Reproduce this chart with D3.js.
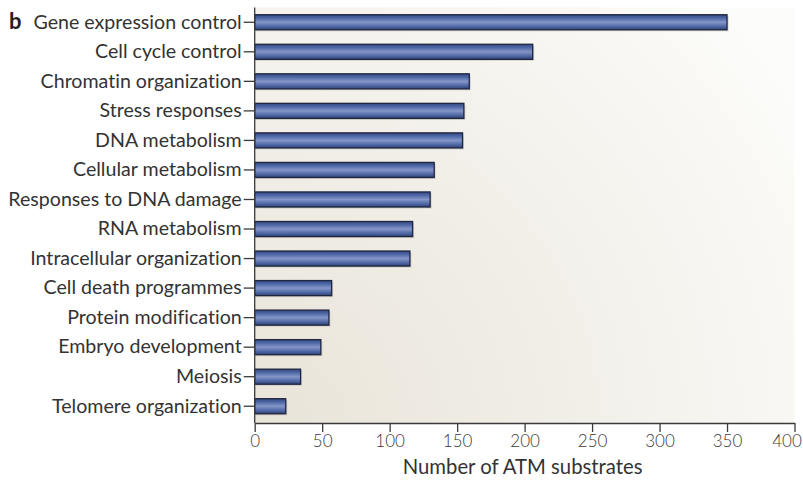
<!DOCTYPE html>
<html>
<head>
<meta charset="utf-8">
<script src="https://cdn.jsdelivr.net/npm/d3@7"></script>
<style>
  html, body { margin: 0; padding: 0; background: #ffffff; }
  svg { display: block; }
  text { font-family: Lato, "Open Sans", sans-serif; font-variant-ligatures: none; }
</style>
</head>
<body>
<div id="chart"></div>
<script>
// Functional categories of ATM substrates
const categories = [
  "Gene expression control",
  "Cell cycle control",
  "Chromatin organization",
  "Stress responses",
  "DNA metabolism",
  "Cellular metabolism",
  "Responses to DNA damage",
  "RNA metabolism",
  "Intracellular organization",
  "Cell death programmes",
  "Protein modification",
  "Embryo development",
  "Meiosis",
  "Telomere organization"
];
const substrateCounts = [350, 206, 159, 155, 154, 133, 130, 117, 115, 57, 55, 49, 34, 23];
const xTickValues = [0, 50, 100, 150, 200, 250, 300, 350, 400];
const xAxisTitle = "Number of ATM substrates";
const panelLetter = "b";

const width = 803, height = 481;
const margin = { top: 7.5, right: 8.5, bottom: 58, left: 254.7 };
const plotW = width - margin.left - margin.right;
const plotH = height - margin.top - margin.bottom;

const svg = d3.select("#chart").append("svg")
  .attr("width", width)
  .attr("height", height);

const defs = svg.append("defs");

// Warm radial wash behind the bars
const bg = defs.append("radialGradient")
  .attr("id", "bgWash")
  .attr("gradientUnits", "userSpaceOnUse")
  .attr("cx", margin.left + 10).attr("cy", margin.top + plotH + 10)
  .attr("r", 640);
bg.append("stop").attr("offset", "0%").attr("stop-color", "#e9e4d9");
bg.append("stop").attr("offset", "45%").attr("stop-color", "#f1eee7");
bg.append("stop").attr("offset", "100%").attr("stop-color", "#fcfcfa");

// Cylindrical shading for bars
const barGrad = defs.append("linearGradient")
  .attr("id", "barFill")
  .attr("x1", 0).attr("y1", 0).attr("x2", 0).attr("y2", 1);
[["0%", "#34487e"], ["22%", "#4d67a6"], ["50%", "#8596c8"], ["78%", "#4f68a6"], ["100%", "#2f4275"]]
  .forEach(([o, c]) => barGrad.append("stop").attr("offset", o).attr("stop-color", c));

const g = svg.append("g").attr("transform", `translate(${margin.left},${margin.top})`);

g.append("rect")
  .attr("x", 0).attr("y", 0)
  .attr("width", plotW).attr("height", plotH)
  .attr("fill", "url(#bgWash)")
  .attr("transform", `translate(${-margin.left},${-margin.top})`)
  .attr("x", margin.left).attr("y", margin.top);

const x = d3.scaleLinear().domain([0, 400]).range([0, plotW]);
const y = d3.scaleBand().domain(categories).range([0, plotH - 2]).paddingInner(0.49).paddingOuter(0.245);

const data = categories.map((c, i) => ({ name: c, value: substrateCounts[i] }));

// Soft drop shadows
g.selectAll("rect.shadow").data(data).join("rect")
  .attr("class", "shadow")
  .attr("x", 1.5)
  .attr("y", d => y(d.name) + 1.5)
  .attr("width", d => x(d.value))
  .attr("height", y.bandwidth())
  .attr("fill", "#b9b5ad")
  .attr("opacity", 0.55);

g.selectAll("rect.bar").data(data).join("rect")
  .attr("class", "bar")
  .attr("x", 0)
  .attr("y", d => y(d.name))
  .attr("width", d => x(d.value))
  .attr("height", y.bandwidth())
  .attr("fill", "url(#barFill)")
  .attr("stroke", "#1f2640")
  .attr("stroke-width", 1.3);

// Category axis
const yAxis = g.append("g")
  .call(d3.axisLeft(y).tickSize(11).tickPadding(2).tickSizeOuter(0));
yAxis.select(".domain").remove();
yAxis.selectAll(".tick line").attr("stroke", "#3a3a3a").attr("stroke-width", 1.3);
yAxis.selectAll(".tick text")
  .attr("fill", "#333333")
  .style("font-size", "19.6px")
  .style("font-family", "Lato, 'Open Sans', sans-serif");

g.append("line")
  .attr("x1", 0).attr("x2", 0)
  .attr("y1", 0).attr("y2", plotH)
  .attr("stroke", "#3a3a3a").attr("stroke-width", 1.3);

// Value axis
const xAxis = g.append("g")
  .attr("transform", `translate(0,${plotH})`)
  .call(d3.axisBottom(x).tickValues(xTickValues).tickSize(9).tickPadding(3).tickSizeOuter(0));
xAxis.select(".domain").attr("stroke", "#3a3a3a").attr("stroke-width", 1.3);
xAxis.selectAll(".tick line").attr("stroke", "#3a3a3a").attr("stroke-width", 1.3);
xAxis.selectAll(".tick text")
  .attr("fill", "#3a3a3a")
  .style("font-size", "17px")
  .style("font-weight", "300")
  .style("font-family", "Lato, 'Open Sans', sans-serif");
// keep the last label inside the page edge
xAxis.selectAll(".tick text").filter(d => d === 400)
  .attr("text-anchor", "end").attr("dx", "0.4em");

g.append("text")
  .attr("x", plotW / 2 - 2)
  .attr("y", plotH + 51)
  .attr("text-anchor", "middle")
  .attr("fill", "#333333")
  .style("font-size", "20.3px")
  .text(xAxisTitle);

svg.append("text")
  .attr("x", 9)
  .attr("y", 29)
  .attr("fill", "#222222")
  .style("font-size", "22px")
  .style("font-weight", "bold")
  .text(panelLetter);
</script>
</body>
</html>
